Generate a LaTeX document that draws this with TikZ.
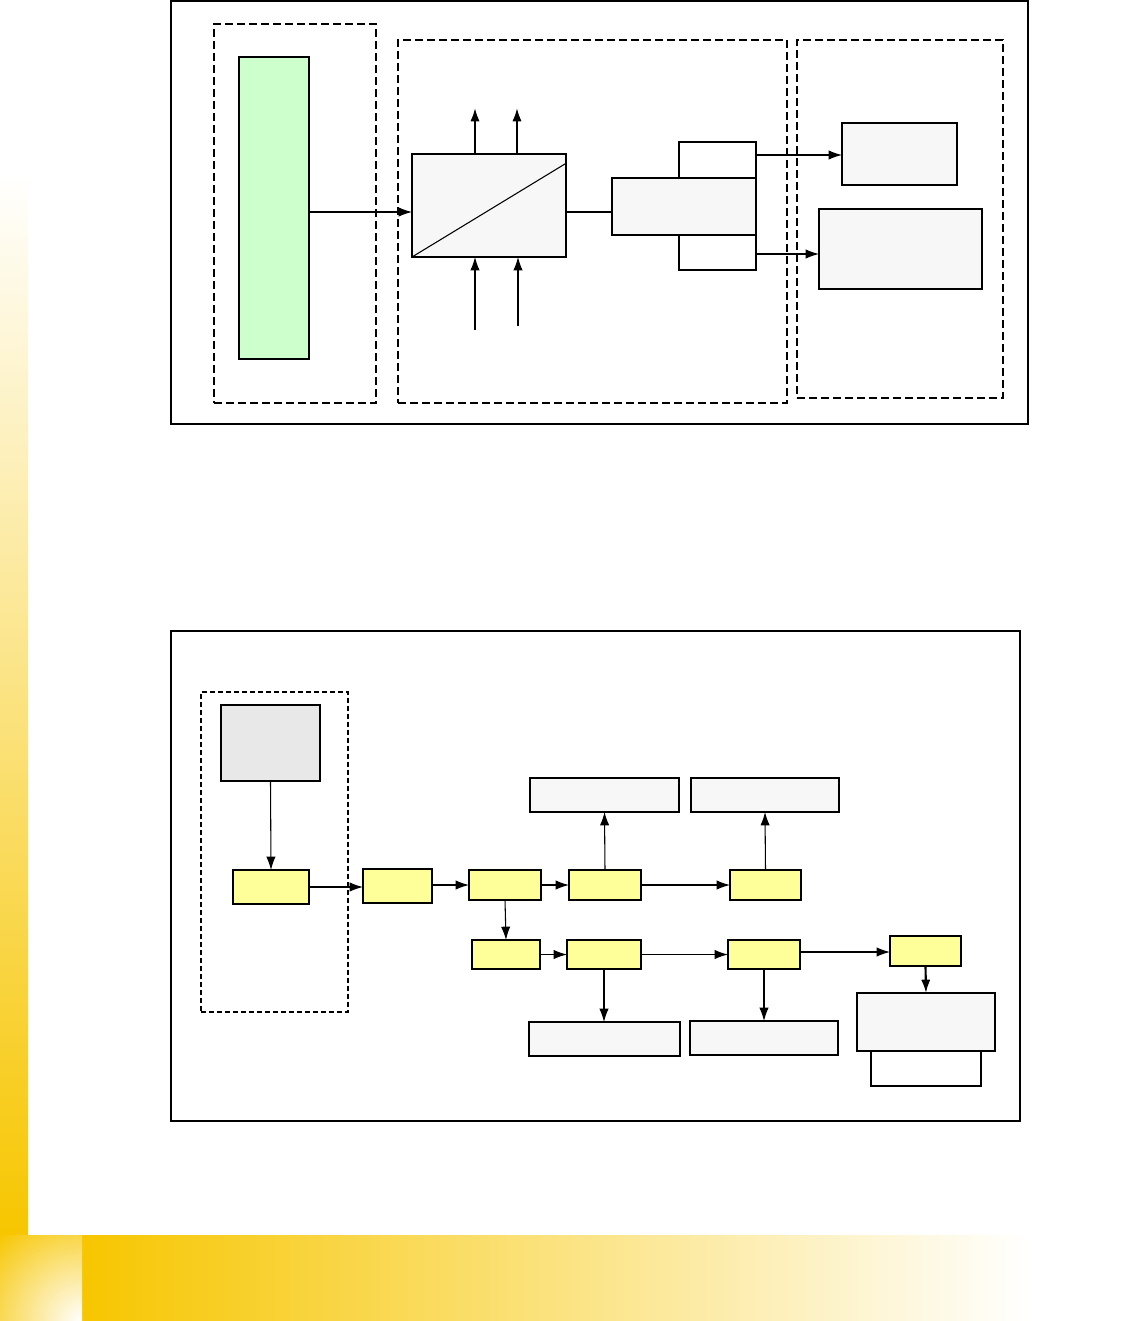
\documentclass[tikz,border=0pt]{standalone}
\usetikzlibrary{arrows.meta,fit}
\definecolor{gold}{RGB}{247,198,0}
\definecolor{goldmid}{RGB}{247,218,130}
\definecolor{paleY}{RGB}{255,255,153}
\definecolor{paleG}{RGB}{204,255,204}
\definecolor{boxgray}{RGB}{247,247,247}
\definecolor{darkgray}{RGB}{232,232,232}
\tikzset{
  px/.style={x=0.75pt,y=-0.75pt},
  frame/.style={draw=black,line width=0.9pt},
  grp/.style={draw=black,line width=0.9pt,dash pattern=on 6pt off 3pt},
  grpsmall/.style={draw=black,line width=0.9pt,dash pattern=on 3.5pt off 2.5pt},
  bx/.style={draw=black,line width=0.9pt,inner sep=0pt,outer sep=0pt},
  gbox/.style={bx,fill=boxgray},
  wbox/.style={bx,fill=white},
  ybox/.style={bx,fill=paleY},
  thk/.style={line width=2.2pt,line cap=rect},
  conn/.style={draw=black,line width=0.8pt,-{Latex[length=10pt,width=7pt]}},
  bconn/.style={draw=black,line width=1.6pt,-{Latex[length=10pt,width=7pt]}},
  plain/.style={draw=black,line width=0.8pt}
}
\begin{document}
\begin{tikzpicture}[px]
\useasboundingbox (0,0) rectangle (1134,1321);
% decoration
\shade[top color=white,middle color=goldmid,bottom color=gold] (0,172) rectangle (28,1236);
\shade[left color=gold,middle color=goldmid,right color=white] (82,1235) rectangle (1030,1321);
\begin{scope}
\clip (0,1235) rectangle (82,1321);
\shade[inner color=white,outer color=gold] (82,1321) circle (90pt);
\end{scope}

% ===== top diagram =====
\node[frame,inner sep=0pt,fit={(171,1)(1028,424)}] (top) {};
\node[grp,inner sep=0pt,fit={(214,24)(376,403)}] (g1) {};
\node[grp,inner sep=0pt,fit={(398,40)(787,403)}] (g2) {};
\node[grp,inner sep=0pt,fit={(797,40)(1003,398)}] (g3) {};
\node[bx,fill=paleG,fit={(239,57)(309,359)}] (green) {};
\node[gbox,fit={(412,154)(566,257)}] (conv) {};
\draw[plain] (conv.south west) -- ([yshift=-7pt]conv.north east);
\draw[thk] (conv.south west) -- (conv.south east);
\draw[thk] (conv.south west) -- (conv.north west);
\coordinate (up1) at (475,108);
\coordinate (up2) at (517,108);
\coordinate (in1) at (475,330);
\coordinate (in2) at (518,326);
\draw[bconn] (475,154) -- (up1);
\draw[bconn] (517,154) -- (up2);
\draw[conn] (in1) -- (475,257);
\draw[conn] (in2) -- (518,257);
\draw[conn] (green.east |- 0,212) -- (conv.west |- 0,212);
\node[wbox,fit={(679,142)(756,178)}] (su) {};
\node[wbox,fit={(679,235)(756,270)}] (sl) {};
\node[gbox,fit={(612,178)(756,235)}] (mid) {};
\draw[thk] (mid.north west) -- (mid.north east);
\draw[plain] (conv.east |- 0,212) -- (mid.west |- 0,212);
\node[gbox,fit={(842,123)(957,185)}] (r1) {};
\node[gbox,fit={(819,209)(982,289)}] (r2) {};
\draw[thk] (r2.south west) -- (r2.south east);
\draw[conn] (su.east |- 0,155) -- (r1.west |- 0,155);
\draw[conn] (sl.east |- 0,254) -- (r2.west |- 0,254);

% ===== bottom diagram =====
\node[frame,inner sep=0pt,fit={(171,631)(1020,1121)}] (bot) {};
\node[grpsmall,inner sep=0pt,fit={(201,692)(348,1012)}] (g4) {};
\node[bx,fill=darkgray,fit={(221,705)(320,781)}] (src) {};
\draw[thk] (src.north west) -- (src.north east);
\draw[thk] (src.south west) -- (src.south east);
\node[ybox,fit={(233,870)(309,904)}] (A) {};
\node[ybox,fit={(363,869)(432,903)}] (B) {};
\node[ybox,fit={(469,870)(541,900)}] (C) {};
\node[ybox,fit={(569,870)(641,900)}] (D) {};
\node[ybox,fit={(730,870)(801,900)}] (E) {};
\node[ybox,fit={(472,940)(540,969)}] (F) {};
\node[ybox,fit={(567,940)(641,969)}] (G) {};
\node[ybox,fit={(728,940)(800,969)}] (H) {};
\node[ybox,fit={(890,936)(961,966)}] (I) {};
\foreach \n in {A,C,D,E,F,G,H}{\draw[thk] (\n.north west) -- (\n.north east);}
\draw[thk] (B.south west) -- (B.south east);
\draw[thk] (I.north east) -- (I.south east);
\node[gbox,fit={(530,778)(679,812)}] (T1) {};
\node[gbox,fit={(691,778)(839,812)}] (T2) {};
\draw[thk] (T1.north west) -- (T1.north east);
\draw[thk] (T2.north west) -- (T2.north east);
\node[gbox,fit={(529,1022)(680,1056)}] (L1) {};
\node[gbox,fit={(690,1021)(838,1055)}] (L2) {};
\draw[thk] (L1.south west) -- (L1.south east);
\node[wbox,fit={(871,1051)(981,1086)}] (K) {};
\draw[thk] (K.north east) -- (K.south east);
\node[gbox,fit={(857,993)(995,1051)}] (J) {};
\draw[thk] (J.south west) -- (J.south east);

\draw[conn] (src.south) -- (A.north);
\draw[conn] (A.east) -- (B.west |- A.east);
\draw[conn] (B.east |- C.west) -- (C.west);
\draw[conn] (C.east) -- (D.west);
\draw[conn] (D.east) -- (E.west);
\draw[conn] (D.north) -- (T1.south);
\draw[conn] (E.north) -- (T2.south);
\draw[conn] (C.south) -- (F.north);
\draw[conn] (F.east) -- (G.west);
\draw[conn] (G.east) -- (H.west);
\draw[conn] (H.east |- 0,952) -- (I.west |- 0,952);
\draw[bconn] (I.south) -- (J.north);
\draw[conn] (G.south) -- (L1.north -| G.south);
\draw[conn] (H.south) -- (L2.north -| H.south);
\end{tikzpicture}
\end{document}
